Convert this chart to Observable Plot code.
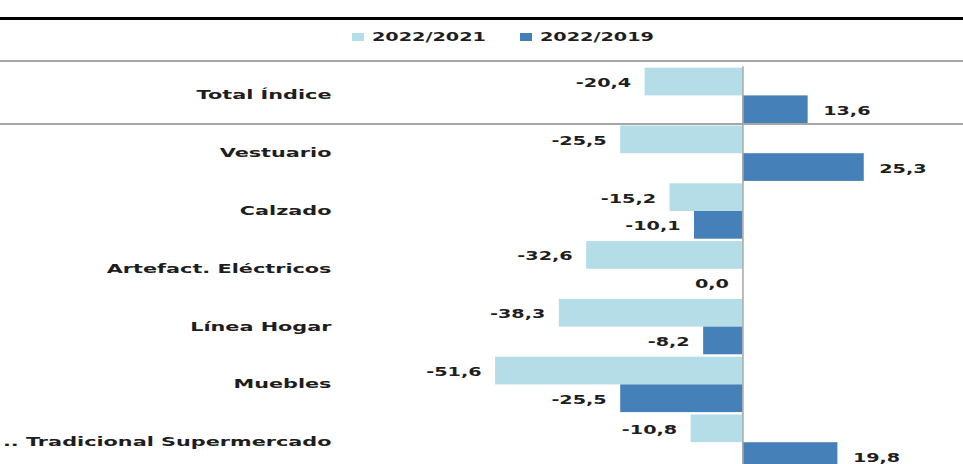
<!DOCTYPE html>
<html>
<head>
<meta charset="utf-8">
<script src="https://cdn.jsdelivr.net/npm/d3@7"></script>
<script src="https://cdn.jsdelivr.net/npm/@observablehq/plot@0.6"></script>
<style>
  html, body { margin: 0; padding: 0; overflow: hidden; background: #fff; }
  body { width: 963px; height: 464px; position: relative; font-family: "DejaVu Sans", sans-serif; }
  .line { position: absolute; left: 0; width: 963px; }
  .sq { position: absolute; width: 12px; height: 8px; }
  .lg { position: absolute; font: bold 12px "DejaVu Sans", sans-serif; color: #1e1e1e; line-height: 14px;
        transform: scaleX(1.6); transform-origin: 0 50%; white-space: nowrap; }
  #chart { position: absolute; left: 0; top: 62px; }
</style>
</head>
<body>
<div class="line" style="top:17px;height:3px;background:#000"></div>
<div class="line" style="top:60px;height:2px;background:#a6a6a6"></div>
<div id="legend"></div>
<div id="chart"></div>
<div class="line" style="top:123px;height:2px;background:#a6a6a6"></div>
<script>
const categories = ["Total Índice", "Vestuario", "Calzado", "Artefact. Eléctricos", "Línea Hogar", "Muebles", ".. Tradicional Supermercado"];
const series = ["2022/2021", "2022/2019"];
const values2021 = [-20.4, -25.5, -15.2, -32.6, -38.3, -51.6, -10.8];
const values2019 = [13.6, 25.3, -10.1, 0.0, -8.2, -25.5, 19.8];
const colors = ["#b4dde7", "#4680b8"];

const data = [];
categories.forEach((c, i) => {
  data.push({category: c, series: series[0], value: values2021[i]});
  data.push({category: c, series: series[1], value: values2019[i]});
});
const fmt = v => v.toFixed(1).replace(".", ",");

// legend
const legend = document.getElementById("legend");
const legendPos = [[352, 372], [520, 540]];
series.forEach((s, i) => {
  const sq = document.createElement("div");
  sq.className = "sq";
  sq.style.left = legendPos[i][0] + "px";
  sq.style.top = "33px";
  sq.style.background = colors[i];
  legend.appendChild(sq);
  const t = document.createElement("div");
  t.className = "lg";
  t.style.left = legendPos[i][1] + "px";
  t.style.top = "30px";
  t.textContent = s;
  legend.appendChild(t);
});

const chart = Plot.plot({
  width: 963,
  height: 412,
  marginLeft: 333,
  marginRight: 0,
  marginTop: 5.7,
  marginBottom: 4.1,
  style: {fontFamily: "DejaVu Sans, sans-serif", fontSize: "13px", fontWeight: "bold", color: "#1e1e1e", background: "transparent", overflow: "visible"},
  x: {domain: [-85.4, 46.0], axis: null},
  y: {domain: series, padding: 0, round: false, axis: null},
  fy: {domain: categories, paddingInner: 0.0415, paddingOuter: 0, round: false, axis: "left", tickSize: 0, tickPadding: 2, label: null},
  color: {domain: series, range: colors},
  marks: [
    Plot.barX(data, {x: "value", y: "series", fy: "category", fill: "series"}),
    Plot.ruleX([0], {stroke: "#a6a6a6", strokeWidth: 1.5, insetTop: -1.5, insetBottom: -1.5}),
    Plot.text(data.filter(d => d.value > 0), {x: "value", y: "series", fy: "category", text: d => fmt(d.value), textAnchor: "start", dx: 15, dy: 5, fontSize: 12, fontWeight: "bold", fill: "#1e1e1e"}),
    Plot.text(data.filter(d => d.value <= 0), {x: "value", y: "series", fy: "category", text: d => fmt(d.value), textAnchor: "end", dx: -14, dy: 5, fontSize: 12, fontWeight: "bold", fill: "#1e1e1e"})
  ]
});
document.getElementById("chart").appendChild(chart);

// horizontally stretched lettering, as in the reference
const valueTexts = new Set(chart.querySelectorAll('g[aria-label="text"] text'));
chart.querySelectorAll("text").forEach(t => {
  const isValue = valueTexts.has(t);
  const s = 1.6;
  const x = +t.getAttribute("x") || 0;
  const y = (+t.getAttribute("y") || 0) + (isValue ? 0 : 3.5);
  t.removeAttribute("x");
  t.removeAttribute("y");
  const tr = t.getAttribute("transform") || "";
  t.setAttribute("transform", `${tr} translate(${x},${y}) scale(${s},1)`);
});
</script>
</body>
</html>
